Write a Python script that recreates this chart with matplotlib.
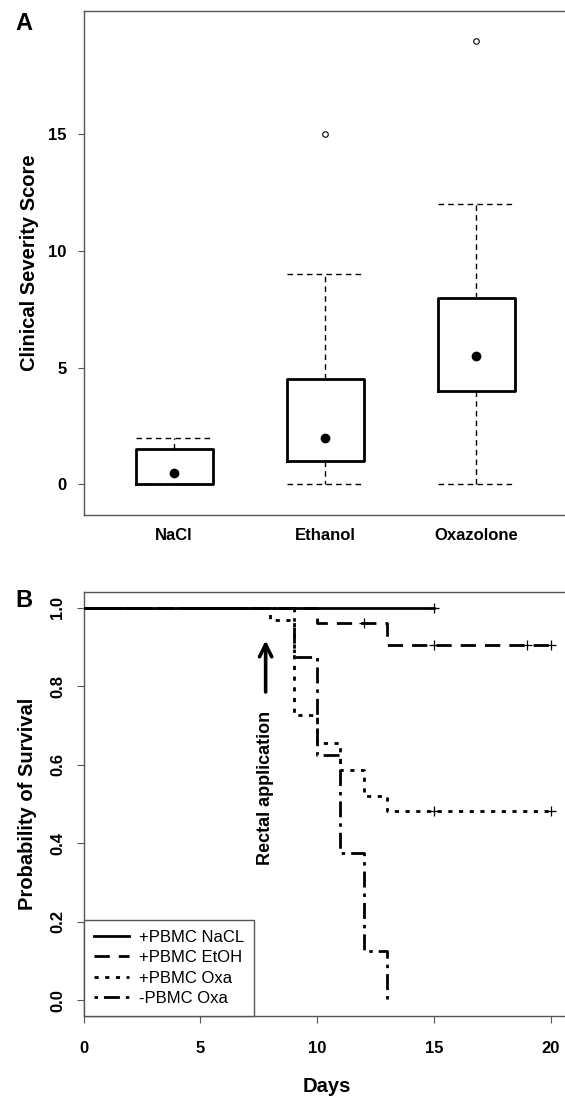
import matplotlib
matplotlib.use("Agg")
import matplotlib.pyplot as plt

plt.rcParams['font.family'] = ['Liberation Sans', 'DejaVu Sans']
plt.rcParams['lines.scale_dashes'] = False

# panel A: clinical severity score per group
groups = ["NaCl", "Ethanol", "Oxazolone"]
q1 = [0, 1, 4]
q3 = [1.5, 4.5, 8]
medians = [0.5, 2, 5.5]
whis_lo = [0, 0, 0]
whis_hi = [2, 9, 12]
outliers = [[], [15], [19]]

# panel B: Kaplan-Meier survival
nacl_t = [0, 15]
nacl_s = [1.0, 1.0]
etoh_t = [0, 10, 13, 20]
etoh_s = [1.0, 0.960, 0.905, 0.905]
oxa_t = [0, 8, 9, 10, 11, 12, 13, 20]
oxa_s = [1.0, 0.967, 0.726, 0.656, 0.586, 0.519, 0.483, 0.483]
neg_t = [0, 9, 10, 11, 12, 13]
neg_s = [1.0, 0.875, 0.625, 0.375, 0.125, 0.0]

nacl_cens_t = [15]
nacl_cens_s = [1.0]
etoh_cens_t = [12, 15, 19, 20]
etoh_cens_s = [0.960, 0.905, 0.905, 0.905]
oxa_cens_t = [15, 20]
oxa_cens_s = [0.483, 0.483]

spine_col = '#555555'

fig = plt.figure(figsize=(5.65, 11), dpi=100)

# ---------- A ----------
ax1 = fig.add_axes([0.1478, 0.5318, 0.855, 0.4585])
stats = []
for i in range(len(groups)):
    stats.append(dict(med=medians[i], q1=q1[i], q3=q3[i],
                      whislo=whis_lo[i], whishi=whis_hi[i], fliers=outliers[i]))
pos = [1, 2, 3]
ax1.bxp(stats, positions=pos, widths=0.51, capwidths=0.51,
        boxprops=dict(color='black', linewidth=2),
        whiskerprops=dict(color='black', linewidth=1, linestyle=(0, (4, 3))),
        capprops=dict(color='black', linewidth=1, linestyle=(0, (4, 3))),
        medianprops=dict(linewidth=0),
        flierprops=dict(marker='o', markersize=4, markerfacecolor='white',
                        markeredgecolor='black', markeredgewidth=0.8))
ax1.plot(pos, medians, 'o', color='black', markersize=6, zorder=5)
ax1.set_xlim(0.4, 3.6)
ax1.set_ylim(-1.316, 20.3)
ax1.set_yticks([0, 5, 10, 15])
ax1.set_xticks(pos)
ax1.set_xticklabels(groups, fontsize=12, fontweight='bold')
ax1.tick_params(axis='x', length=0, pad=9)
ax1.tick_params(axis='y', length=4, pad=8, labelsize=12, color=spine_col)
for lab in ax1.get_yticklabels():
    lab.set_fontweight('bold')
ax1.set_ylabel("Clinical Severity Score", fontsize=14.5, fontweight='bold')
ax1.yaxis.set_label_coords(-0.092, 0.5)
for sp in ax1.spines.values():
    sp.set_color(spine_col)
    sp.set_linewidth(1)
fig.text(0.042, 0.979, "A", fontsize=17, fontweight='bold', ha='center', va='center')

# ---------- B ----------
ax2 = fig.add_axes([0.1478, 0.0764, 0.8596, 0.3856])
lw = 2.0
ax2.step(neg_t, neg_s, where='post', color='black', lw=lw,
         linestyle=(0, (2.5, 4.3, 11.5, 4.3)), label='-PBMC Oxa', zorder=2)
ax2.step(oxa_t, oxa_s, where='post', color='black', lw=lw,
         linestyle=(0, (3, 4.7)), label='+PBMC Oxa', zorder=3)
ax2.step(etoh_t, etoh_s, where='post', color='black', lw=lw,
         linestyle=(0, (11, 6.5)), label='+PBMC EtOH', zorder=4)
ax2.step(nacl_t, nacl_s, where='post', color='black', lw=lw,
         linestyle='-', label='+PBMC NaCL', zorder=5)
for ct, cs in [(nacl_cens_t, nacl_cens_s), (etoh_cens_t, etoh_cens_s), (oxa_cens_t, oxa_cens_s)]:
    ax2.plot(ct, cs, '+', color='black', markersize=7, markeredgewidth=0.9, zorder=6)

ax2.annotate("", xy=(7.8, 0.916), xytext=(7.8, 0.785),
             arrowprops=dict(arrowstyle='->', lw=2.6, color='black', mutation_scale=22,
                             shrinkA=0, shrinkB=0))
ax2.text(7.8, 0.54, "Rectal application", rotation=90, fontsize=13, fontweight='bold',
         ha='center', va='center')

ax2.set_xlim(0, 20.8)
ax2.set_ylim(-0.04, 1.04)
ax2.set_xticks([0, 5, 10, 15, 20])
ax2.set_yticks([0.0, 0.2, 0.4, 0.6, 0.8, 1.0])
ax2.set_yticklabels(["0.0", "0.2", "0.4", "0.6", "0.8", "1.0"])
ax2.tick_params(axis='x', length=5, pad=13, labelsize=12, color=spine_col)
ax2.tick_params(axis='y', length=5, pad=8, labelsize=12, color=spine_col, labelrotation=90)
for lab in ax2.get_xticklabels() + ax2.get_yticklabels():
    lab.set_fontweight('bold')
for lab in ax2.get_yticklabels():
    lab.set_va('center')
ax2.set_xlabel("Days", fontsize=14.5, fontweight='bold')
ax2.xaxis.set_label_coords(0.5, -0.145)
ax2.set_ylabel("Probability of Survival", fontsize=14.5, fontweight='bold')
ax2.yaxis.set_label_coords(-0.095, 0.5)
for sp in ax2.spines.values():
    sp.set_color(spine_col)
    sp.set_linewidth(1)

handles, labels = ax2.get_legend_handles_labels()
order = [3, 2, 1, 0]
leg = ax2.legend([handles[i] for i in order], [labels[i] for i in order],
                 loc='lower left', bbox_to_anchor=(0, 0), borderaxespad=0,
                 fontsize=12, frameon=True, fancybox=False, framealpha=1,
                 edgecolor=spine_col, handlelength=2.1, handletextpad=0.65,
                 labelspacing=0.32, borderpad=0.6)
leg.get_frame().set_linewidth(1)
fig.text(0.042, 0.4545, "B", fontsize=17, fontweight='bold', ha='center', va='center')

fig.savefig("out.png", dpi=100)
